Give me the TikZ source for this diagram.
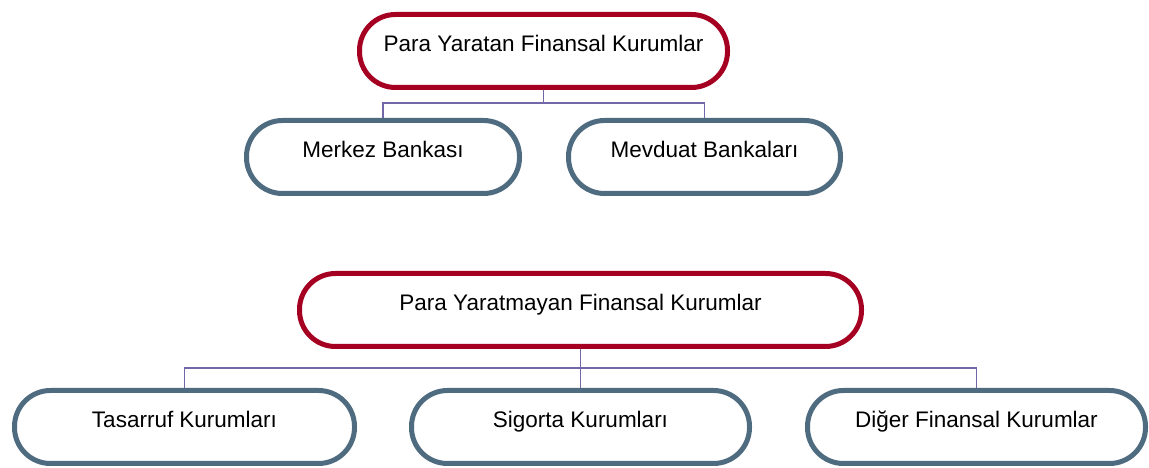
\documentclass[tikz,border=0pt]{standalone}
\usepackage{fontspec}
\setmainfont{Liberation Sans}
\definecolor{kirmizi}{HTML}{A50021}
\definecolor{mavi}{HTML}{4E6B80}
\definecolor{mor}{HTML}{7068A8}
\begin{document}
\begin{tikzpicture}[x=1pt,y=1pt,
    kutu/.style={draw, line width=5pt, fill=white, rounded corners=36pt, minimum height=73pt,
      font=\fontsize{22.5}{26}\selectfont, text height=16pt, text depth=14pt, inner sep=0pt},
    ana/.style={kutu, draw=kirmizi},
    alt/.style={kutu, draw=mavi},
    bag/.style={draw=mor, line width=1.3pt}]
        \useasboundingbox (0,0) rectangle (1149,468);

        \node[ana, minimum width=368pt] (yaratan) at (543.5,417) {Para Yaratan Finansal Kurumlar};
        \node[alt, minimum width=273pt] (merkez) at (383,311) {Merkez Bankası};
        \node[alt, minimum width=272pt] (mevduat) at (704.5,311) {Mevduat Bankaları};

        \node[ana, minimum width=562pt] (yaratmayan) at (580.5,158) {Para Yaratmayan Finansal Kurumlar};
        \node[alt, minimum width=340pt] (tasarruf) at (184.5,41) {Tasarruf Kurumları};
        \node[alt, minimum width=338pt] (sigorta) at (580.5,41) {Sigorta Kurumları};
        \node[alt, minimum width=338pt] (diger) at (976.5,41) {Diğer Finansal Kurumlar};

        \draw[bag] (yaratan.south) -- ++(0,-13) -| (merkez.north);
        \draw[bag] (yaratan.south) -- ++(0,-13) -| (mevduat.north);

        \draw[bag] (yaratmayan.south) -- ++(0,-19) -| (tasarruf.north);
        \draw[bag] (yaratmayan.south) -- (sigorta.north);
        \draw[bag] (yaratmayan.south) -- ++(0,-19) -| (diger.north);
    \end{tikzpicture}
\end{document}
